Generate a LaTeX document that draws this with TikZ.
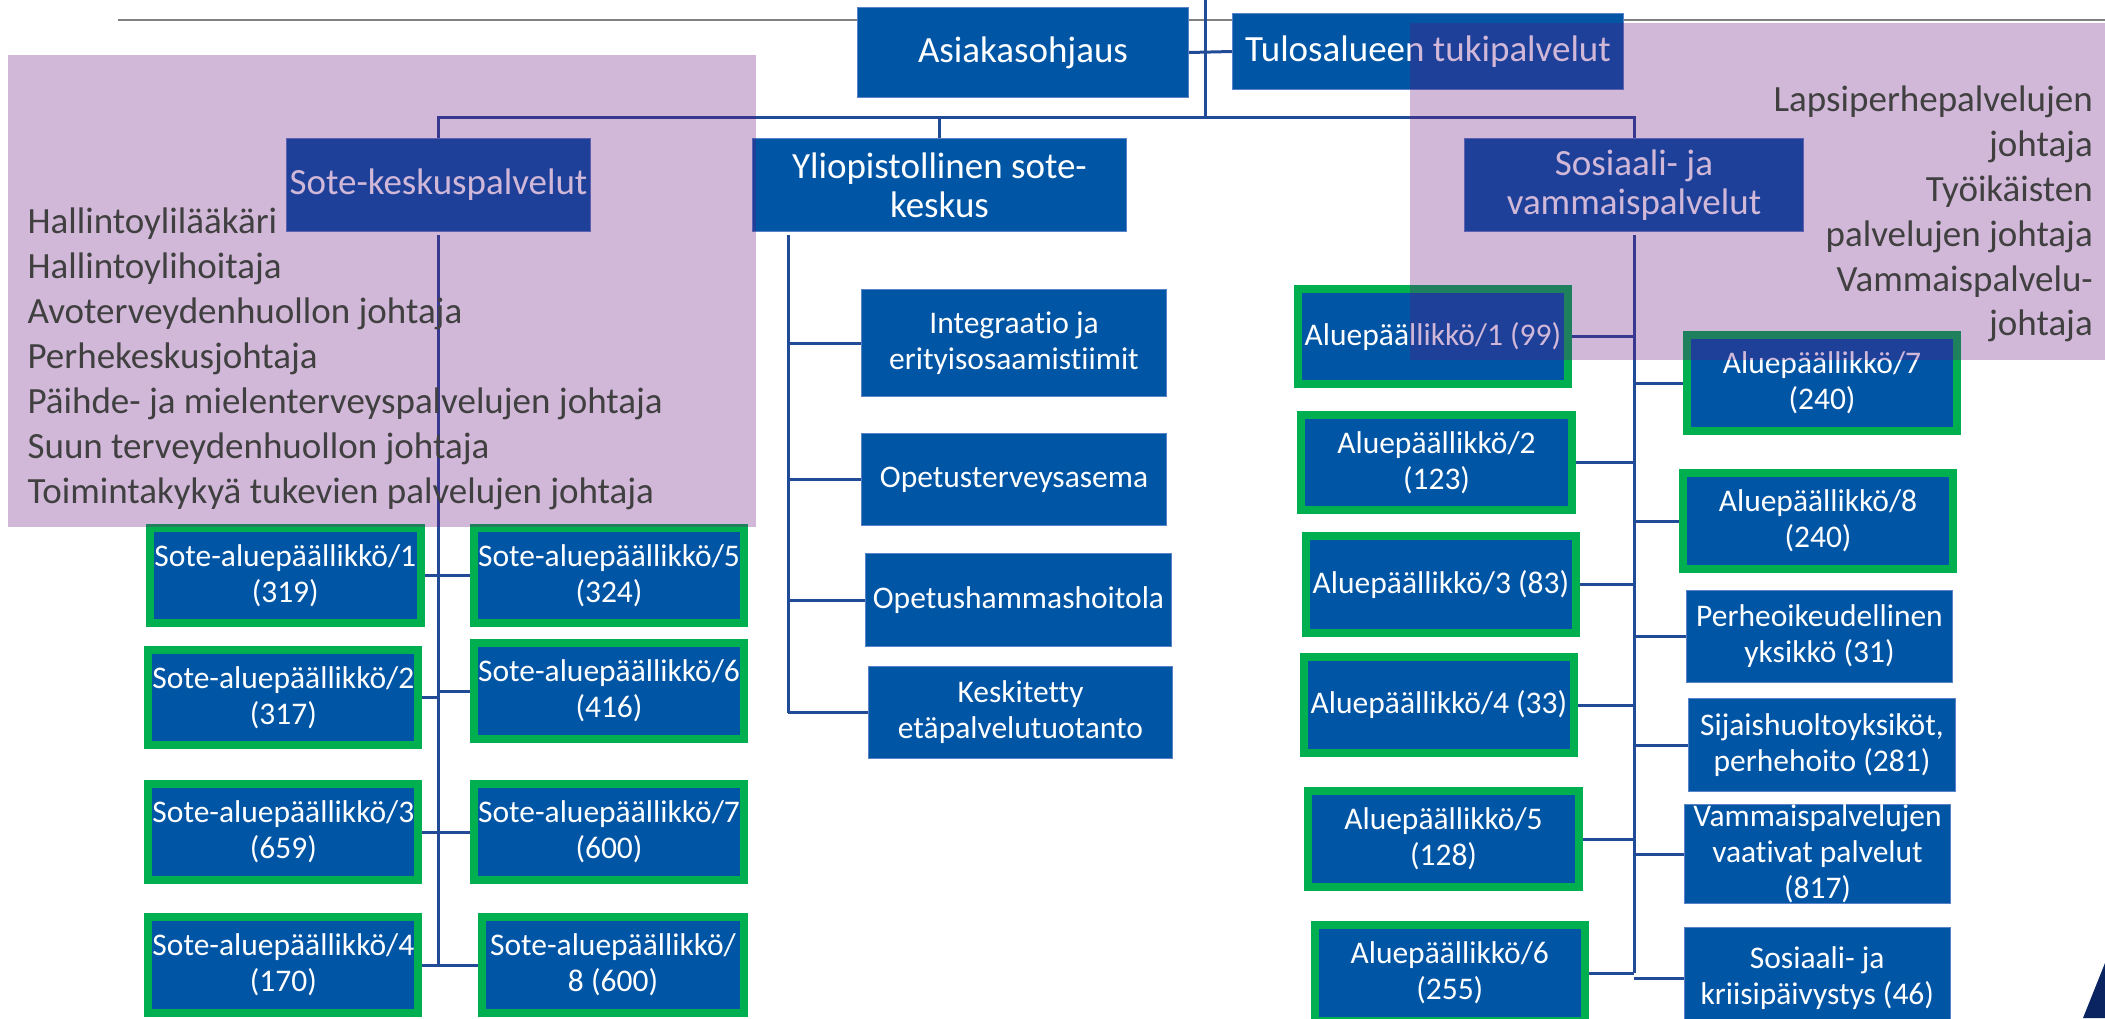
\documentclass[tikz,border=0pt]{standalone}
\usepackage{fontspec}
\setmainfont{Carlito}[Ligatures={NoCommon}]
\definecolor{boxblue}{RGB}{0,85,165}
\definecolor{boxedge}{RGB}{90,130,200}
\definecolor{frgreen}{RGB}{0,176,80}
\definecolor{connblue}{RGB}{33,75,150}
\definecolor{topgray}{RGB}{128,128,128}
\definecolor{ovpurple}{RGB}{103,18,127}
\definecolor{ovgray}{RGB}{64,64,64}
\definecolor{navy}{RGB}{10,36,98}
\tikzset{
  bluebox/.style={fill=boxblue, draw=boxedge, line width=1pt, text=white, inner sep=0pt, align=center, font=\fontsize{31.5}{36}\selectfont},
  topbox/.style={bluebox, font=\fontsize{37}{39}\selectfont},
  greenbox/.style={bluebox, draw=frgreen, line width=8pt},
  conn/.style={draw=connblue, line width=3pt},
  ovl/.style={fill=ovpurple, fill opacity=0.3, draw=none},
  ovtext/.style={text=ovgray, inner sep=0pt, font=\fontsize{37}{45}\selectfont}
}
% #1 style, #2 line width, #3 name, #4 x1, #5 y1, #6 x2, #7 y2, #8 text
\newcommand\mybox[8]{%
  \node[#1, minimum width={(#6-#4-#2)*1pt}, minimum height={(#7-#5-#2)*1pt}] (#3) at ({(#4+#6)/2},{(#5+#7)/2}) {#8};}
\begin{document}
\begin{tikzpicture}[x=1pt,y=-1pt]
\useasboundingbox (0,0) rectangle (2105,1018);
\clip (0,0) rectangle (2105,1018);
% top gray rule
\coordinate (gl) at (118,20);
\coordinate (gr) at (2105,20);
\draw[topgray, line width=2pt] (gl) -- (gr);
% top level boxes
\mybox{topbox}{1}{AS}{857}{7}{1189}{98}{Asiakasohjaus}
\mybox{topbox}{1}{TU}{1232}{13}{1624}{90}{Tulosalueen tukipalvelut}
\mybox{topbox}{1}{SK}{286}{138}{591}{232}{Sote-keskuspalvelut}
\mybox{topbox}{1}{YS}{752}{138}{1127}{232}{Yliopistollinen sote-\\keskus}
\mybox{topbox}{1}{SV}{1464}{138}{1804}{232}{Sosiaali- ja\\vammaispalvelut}
% top connectors
\coordinate (top) at (1205,0);
\coordinate (hb) at (1205,117);
\coordinate (mb) at (788,235);
\draw[conn] (top) -- (hb);
\draw[conn] (AS.east) -- (TU.west);
\draw[conn] (SK.north) -- (SK.north |- hb) -- (SV.north |- hb) -- (SV.north);
\draw[conn] (YS.north) -- (YS.north |- hb);
% left column
\mybox{greenbox}{8}{S1}{146}{524}{424.5}{627}{Sote-aluepäällikkö/1\\(319)}
\mybox{greenbox}{8}{S2}{144.4}{646}{422.4}{749}{Sote-aluepäällikkö/2\\(317)}
\mybox{greenbox}{8}{S3}{144.4}{780}{422.4}{884}{Sote-aluepäällikkö/3\\(659)}
\mybox{greenbox}{8}{S4}{144.4}{913}{422.4}{1017}{Sote-aluepäällikkö/4\\(170)}
\mybox{greenbox}{8}{S5}{470}{524}{748}{627}{Sote-aluepäällikkö/5\\(324)}
\mybox{greenbox}{8}{S6}{470}{639}{748}{743}{Sote-aluepäällikkö/6\\(416)}
\mybox{greenbox}{8}{S7}{470}{780}{748}{884}{Sote-aluepäällikkö/7\\(600)}
\mybox{greenbox}{8}{S8}{478}{913}{748}{1017}{Sote-aluepäällikkö/\\8 (600)}
\draw[conn] ([yshift=-3pt]SK.south) -- (SK.south |- S4.east);
\foreach \n in {S1,S2,S3,S4} \draw[conn] (\n.east) -- (\n.east -| SK.south);
\foreach \n in {S5,S6,S7,S8} \draw[conn] (\n.west) -- (\n.west -| SK.south);
% middle column
\mybox{bluebox}{1}{M1}{861}{289}{1167}{397}{Integraatio ja\\erityisosaamistiimit}
\mybox{bluebox}{1}{M2}{861}{433}{1167}{526}{Opetusterveysasema}
\mybox{bluebox}{1}{M3}{865}{553}{1172}{647}{Opetushammashoitola}
\mybox{bluebox}{1}{M4}{868}{666}{1173}{759}{Keskitetty\\etäpalvelutuotanto}
\draw[conn] (mb) -- (mb |- M4.west);
\foreach \n in {M1,M2,M3,M4} \draw[conn] (\n.west) -- (\n.west -| mb);
% right column
\mybox{greenbox}{8}{A1}{1294}{285}{1572}{388}{Aluepäällikkö/1 (99)}
\mybox{greenbox}{8}{A2}{1297}{411}{1576}{514}{Aluepäällikkö/2\\(123)}
\mybox{greenbox}{8}{A3}{1302}{532}{1580}{637}{Aluepäällikkö/3 (83)}
\mybox{greenbox}{8}{A4}{1300}{653}{1578}{757}{Aluepäällikkö/4 (33)}
\mybox{greenbox}{8}{A5}{1304}{787}{1583}{891}{Aluepäällikkö/5\\(128)}
\mybox{greenbox}{8}{A6}{1310.5}{921}{1589}{1025}{Aluepäällikkö/6\\(255)}
\mybox{greenbox}{8}{R7}{1683}{331}{1961}{435}{Aluepäällikkö/7\\(240)}
\mybox{greenbox}{8}{R8}{1679}{469}{1957}{573}{Aluepäällikkö/8\\(240)}
\mybox{bluebox}{1}{PE}{1686}{590}{1953}{683}{Perheoikeudellinen\\yksikkö (31)}
\mybox{bluebox}{1}{SI}{1688}{698}{1956}{792}{Sijaishuoltoyksiköt,\\perhehoito (281)}
\mybox{bluebox}{1}{VA}{1684}{807}{1951}{901}{Vammaispalvelujen\\vaativat palvelut\\(817)}
\mybox{bluebox}{1}{SP}{1683.5}{927}{1951}{1030}{Sosiaali- ja\\kriisipäivystys (46)}
\draw[conn] ([yshift=-3pt]SV.south) -- (SV.south |- A6.east);
\foreach \n in {A1,A2,A3,A4,A5,A6} \draw[conn] (\n.east) -- (\n.east -| SV.south);
\foreach \n in {R7,R8,PE,SI,VA,SP} \draw[conn] (\n.west) -- (\n.west -| SV.south);
% translucent overlays
\fill[ovl] (8,55) rectangle (756,527);
\fill[ovl] (1409.5,23) rectangle (2105,360);
% overlay texts (left)
\node[ovtext, anchor=base west] (L1) at (27.4,233.3) {Hallintoylilääkäri};
\node[ovtext, anchor=base west] (L2) at (27.4,278.3) {Hallintoylihoitaja};
\node[ovtext, anchor=base west] (L3) at (27.4,323.3) {Avoterveydenhuollon johtaja};
\node[ovtext, anchor=base west] (L4) at (27.4,368.3) {Perhekeskusjohtaja};
\node[ovtext, anchor=base west] (L5) at (27.4,413.3) {Päihde- ja mielenterveyspalvelujen johtaja};
\node[ovtext, anchor=base west] (L6) at (27.4,458.3) {Suun terveydenhuollon johtaja};
\node[ovtext, anchor=base west] (L7) at (27.4,503.3) {Toimintakykyä tukevien palvelujen johtaja};
% overlay texts (right)
\node[ovtext, anchor=base east] (P1) at (2093,111.7) {Lapsiperhepalvelujen};
\node[ovtext, anchor=base east] (P2) at (2093,156.7) {johtaja};
\node[ovtext, anchor=base east] (P3) at (2093,201.7) {Työikäisten};
\node[ovtext, anchor=base east] (P4) at (2093,246.7) {palvelujen johtaja};
\node[ovtext, anchor=base east] (P5) at (2093,291.7) {Vammaispalvelu-};
\node[ovtext, anchor=base east] (P6) at (2093,335) {johtaja};
% corner shape
\fill[navy] (2083,1018) -- (2105,963) -- (2105,1018) -- cycle;
\end{tikzpicture}
\end{document}
